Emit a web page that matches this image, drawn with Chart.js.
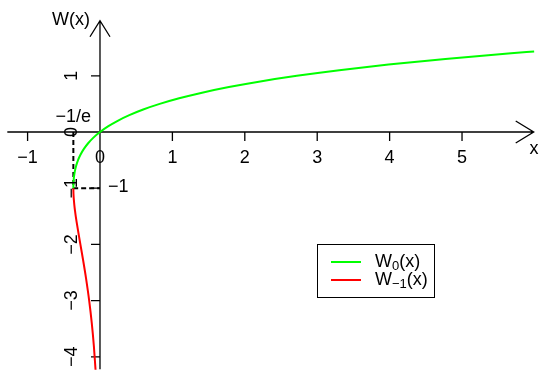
<!DOCTYPE html>
<html>
<head>
<meta charset="utf-8">
<title>Lambert W</title>
<script src="https://cdn.jsdelivr.net/npm/chart.js@4.4.1/dist/chart.umd.min.js"></script>
<style>
  html, body { margin: 0; padding: 0; background: #fff; }
  #wrap { width: 550px; height: 385px; position: relative; }
</style>
</head>
<body>
<div id="wrap"><canvas id="lambertChart"></canvas></div>
<script>
// valores
const xTickValues = [-1, 0, 1, 2, 3, 4, 5];
const yTickValues = [-4, -3, -2, -1, 0, 1];

// rama principal W0
const w0X = [-0.3679, -0.3678, -0.3674, -0.3659, -0.3633, -0.3595, -0.3476, -0.3293, -0.3033,
             -0.2681, -0.2222, -0.1637, -0.0905, 0, 0.1105, 0.2443, 0.4050, 0.5967, 0.8244,
             1.0933, 1.4096, 1.7804, 2.2136, 2.7183, 3.3046, 3.9841, 4.7701, 5.6773, 5.996];
const w0Y = [-1, -0.98, -0.95, -0.9, -0.85, -0.8, -0.7, -0.6, -0.5,
             -0.4, -0.3, -0.2, -0.1, 0, 0.1, 0.2, 0.3, 0.4, 0.5,
             0.6, 0.7, 0.8, 0.9, 1.0, 1.1, 1.2, 1.3, 1.4, 1.432];

// rama W-1
const wm1X = [-0.3679, -0.3678, -0.3674, -0.3662, -0.3641, -0.3614, -0.3543, -0.3452, -0.3347,
              -0.3230, -0.2975, -0.2707, -0.2306, -0.1931, -0.1494, -0.1135, -0.0850, -0.0616];
const wm1Y = [-1, -1.02, -1.05, -1.1, -1.15, -1.2, -1.3, -1.4, -1.5,
              -1.6, -1.8, -2.0, -2.3, -2.6, -3.0, -3.4, -3.8, -4.23];

// lineas guia punteadas (-1/e, -1)
const guideX = [-0.3679, -0.3679, 0];
const guideY = [0, -1, -1];

const toPoints = (xs, ys) => xs.map((x, i) => ({ x: x, y: ys[i] }));

const FONT = '18px "Liberation Sans", Arial, sans-serif';
const FONT_SUB = '13px "Liberation Sans", Arial, sans-serif';

// ejes con flechas, marcas y etiquetas al estilo R
const axesPlugin = {
    id: 'axesPlugin',
    beforeDatasetsDraw(chart) {
        const { ctx, scales: { x, y } } = chart;
        const x0 = x.getPixelForValue(0);
        const y0 = y.getPixelForValue(0);
        ctx.save();
        ctx.strokeStyle = '#000';
        ctx.lineWidth = 1.3;
        ctx.beginPath();
        // eje x
        const xl = x.getPixelForValue(-1.28), xr = x.getPixelForValue(5.99);
        ctx.moveTo(xl, y0); ctx.lineTo(xr, y0);
        ctx.moveTo(xr - 18, y0 - 11); ctx.lineTo(xr, y0); ctx.lineTo(xr - 18, y0 + 11);
        // eje y
        const yb = y.getPixelForValue(-4.22), yt = y.getPixelForValue(1.98);
        ctx.moveTo(x0, yb); ctx.lineTo(x0, yt);
        ctx.moveTo(x0 - 10, yt + 16); ctx.lineTo(x0, yt); ctx.lineTo(x0 + 10, yt + 16);
        // marcas
        xTickValues.forEach(v => {
            const px = x.getPixelForValue(v);
            ctx.moveTo(px, y0); ctx.lineTo(px, y0 + 9);
        });
        yTickValues.forEach(v => {
            const py = y.getPixelForValue(v);
            ctx.moveTo(x0, py); ctx.lineTo(x0 - 9, py);
        });
        ctx.stroke();
        ctx.restore();
    },
    afterDraw(chart) {
        const { ctx, scales: { x, y } } = chart;
        const x0 = x.getPixelForValue(0);
        const y0 = y.getPixelForValue(0);
        const fmt = v => (v < 0 ? '\u2212' + Math.abs(v) : String(v));
        ctx.save();
        ctx.fillStyle = '#000';
        ctx.font = FONT;
        ctx.textAlign = 'center';
        ctx.textBaseline = 'middle';
        xTickValues.forEach(v => {
            ctx.fillText(fmt(v), x.getPixelForValue(v), y0 + 26);
        });
        yTickValues.forEach(v => {
            ctx.save();
            ctx.translate(x0 - 28, y.getPixelForValue(v));
            ctx.rotate(-Math.PI / 2);
            ctx.fillText(fmt(v), 0, 0);
            ctx.restore();
        });
        // etiquetas de ejes y guias
        ctx.fillText('W(x)', 71, 20);
        ctx.fillText('x', 534, 149);
        ctx.fillText('\u22121/e', x.getPixelForValue(-0.3679), y0 - 15);
        ctx.textAlign = 'left';
        ctx.fillText('\u22121', x0 + 8, y.getPixelForValue(-1) - 1);

        // leyenda
        const box = { left: 317.5, top: 244.5, w: 117, h: 53 };
        ctx.lineWidth = 1;
        ctx.strokeStyle = '#000';
        ctx.strokeRect(box.left, box.top, box.w, box.h);
        chart.data.datasets.slice(0, 2).forEach((ds, i) => {
            const ly = 262 + i * 18;
            ctx.strokeStyle = ds.borderColor;
            ctx.lineWidth = 2;
            ctx.beginPath();
            ctx.moveTo(331, ly); ctx.lineTo(361, ly);
            ctx.stroke();
            ctx.textBaseline = 'alphabetic';
            let tx = 375;
            ctx.font = FONT;
            ctx.fillText('W', tx, ly + 5);
            tx += ctx.measureText('W').width;
            ctx.font = FONT_SUB;
            ctx.fillText(ds.subLabel, tx, ly + 8);
            tx += ctx.measureText(ds.subLabel).width;
            ctx.font = FONT;
            ctx.fillText('(x)', tx, ly + 5);
        });
        ctx.restore();
    }
};

const ctx = document.getElementById('lambertChart').getContext('2d');
const lambertChart = new Chart(ctx, {
    type: 'scatter',
    data: {
        datasets: [{
            label: 'W0(x)',
            subLabel: '0',
            data: toPoints(w0X, w0Y),
            showLine: true,
            borderColor: '#00ff00',
            borderWidth: 2,
            pointRadius: 0,
            cubicInterpolationMode: 'monotone'
        }, {
            label: 'W-1(x)',
            subLabel: '\u22121',
            data: toPoints(wm1X, wm1Y),
            showLine: true,
            borderColor: '#ff0000',
            borderWidth: 2,
            pointRadius: 0,
            cubicInterpolationMode: 'monotone'
        }, {
            label: 'guia',
            data: toPoints(guideX, guideY),
            showLine: true,
            borderColor: '#000',
            borderWidth: 2,
            borderDash: [5, 3],
            pointRadius: 0
        }]
    },
    options: {
        responsive: true,
        maintainAspectRatio: false,
        animation: false,
        layout: { padding: 0 },
        plugins: {
            legend: { display: false },
            tooltip: { enabled: false }
        },
        scales: {
            x: { type: 'linear', display: false, min: -1.381, max: 6.215 },
            y: { type: 'linear', display: false, min: -4.502, max: 2.349 }
        }
    },
    plugins: [axesPlugin]
});
</script>
</body>
</html>
